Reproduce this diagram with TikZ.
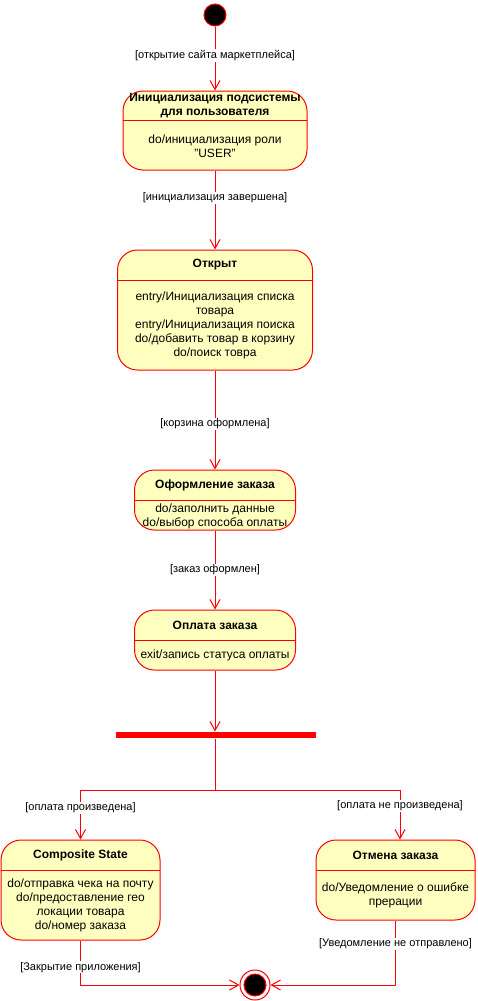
\documentclass[tikz,border=0pt]{standalone}
\usepackage{fontspec}
\setmainfont{Liberation Sans}
\usetikzlibrary{arrows.meta}
\definecolor{stfill}{HTML}{FFFFC0}

\begin{document}
\begin{tikzpicture}[x=1pt, y=-1pt, line width=1pt,
    state/.style={draw=red, fill=stfill, rounded corners=20pt, inner sep=0pt},
    sttitle/.style={font=\fontsize{12}{14}\selectfont\bfseries, align=center, inner sep=0pt},
    stbody/.style={font=\fontsize{12}{14}\selectfont, align=center, inner sep=0pt},
    guard/.style={font=\fontsize{11}{13}\selectfont, fill=white, inner sep=1pt},
    trans/.style={draw=red, -{Straight Barb[length=9pt,width=10pt]}},
    sep/.style={draw=red}]
  \useasboundingbox (0,0) rectangle (478,1001);

  \node[circle, draw=red, fill=black, minimum size=22pt, inner sep=0pt] (start) at (215,15) {};

  \node[state, minimum width=184pt, minimum height=79pt] (podsys) at (215,130.5) {};
  \draw[sep] (123,120) -- (307,120);
  \node[sttitle] at (215,105.5) {Инициализация подсистемы\\для пользователя};
  \node[stbody] at (215,146.5) {do/инициализация роли\\"USER"};

  \node[state, minimum width=195pt, minimum height=120pt] (otkryt) at (215,310) {};
  \draw[sep] (117.5,280) -- (312.5,280);
  \node[sttitle] at (215,265) {Открыт};
  \node[stbody] at (215,325) {entry/Инициализация списка\\товара\\entry/Инициализация поиска\\do/добавить товар в корзину\\do/поиск товра};

  \node[state, minimum width=161pt, minimum height=60pt] (oform) at (215,500) {};
  \draw[sep] (134.5,500) -- (295.5,500);
  \node[sttitle] at (215,485.5) {Оформление заказа};
  \node[stbody] at (215,516) {do/заполнить данные\\do/выбор способа оплаты};

  \node[state, minimum width=161pt, minimum height=60pt] (oplata) at (215,640) {};
  \draw[sep] (134.5,640) -- (295.5,640);
  \node[sttitle] at (215,625.5) {Оплата заказа};
  \node[stbody] at (215,655.5) {exit/запись статуса оплаты};

  \node[fill=red, minimum width=200pt, minimum height=6pt, inner sep=0pt] (fork) at (215.5,735) {};
  \coordinate (split) at (215,790);

  \node[state, minimum width=159pt, minimum height=100pt] (compos) at (80.5,890) {};
  \draw[sep] (1,870) -- (160,870);
  \node[sttitle] at (80.5,855.5) {Composite State};
  \node[stbody] at (80.5,905.5) {do/отправка чека на почту\\do/предоставление гео\\локации товара\\do/номер заказа};

  \node[state, minimum width=159pt, minimum height=80pt] (otmena) at (395.5,880) {};
  \draw[sep] (316,870) -- (475,870);
  \node[sttitle] at (395.5,855.5) {Отмена заказа};
  \node[stbody] at (395.5,895.5) {do/Уведомление о ошибке\\прерации};

  \node[circle, draw=red, fill=white, minimum size=30pt, inner sep=0pt] (finish) at (255,985) {};
  \node[circle, draw=red, fill=black, minimum size=22pt, inner sep=0pt] at (finish) {};

  \draw[trans] (start) -- node[guard, pos=0.45] {[открытие сайта маркетплейса]} (podsys);
  \draw[trans] (podsys) -- node[guard, pos=0.35] {[инициализация завершена]} (otkryt);
  \draw[trans] (otkryt) -- node[guard, pos=0.54] {[корзина оформлена]} (oform);
  \draw[trans] (oform) -- node[guard, pos=0.5] {[заказ оформлен]} (oplata);
  \draw[trans] (oplata) -- (oplata |- fork.north);
  \draw[sep] (split |- fork.south) -- (split);
  \draw[trans] (split) -| node[guard, pos=0.68] {[оплата произведена]} (compos);
  \draw[trans] (split) -| node[guard, pos=0.66] {[оплата не произведена]} ([xshift=4.5pt]otmena.north);
  \draw[trans] (compos) |- node[guard, pos=0.3] {[Закрытие приложения]} (finish);
  \draw[trans] (otmena) |- node[guard, pos=0.18] {[Уведомление не отправлено]} (finish);
\end{tikzpicture}
\end{document}
